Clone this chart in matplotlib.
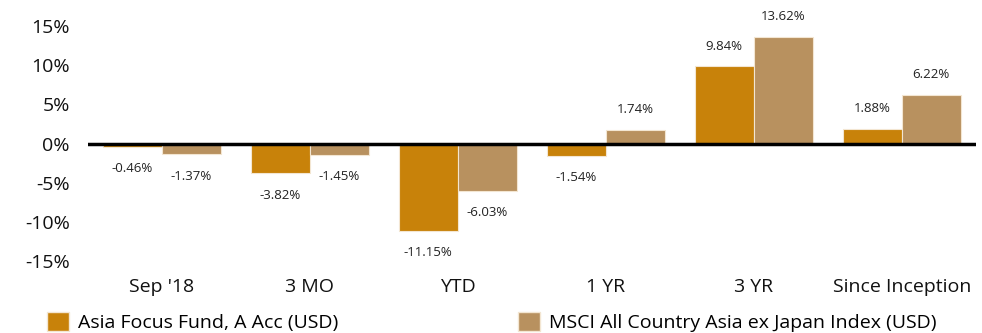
import numpy as np
import matplotlib.pyplot as plt
from matplotlib.patches import Patch

# Performance returns (%)
periods = ["Sep '18", "3 MO", "YTD", "1 YR", "3 YR", "Since Inception"]
fund_returns = [-0.46, -3.82, -11.15, -1.54, 9.84, 1.88]
index_returns = [-1.37, -1.45, -6.03, 1.74, 13.62, 6.22]
series_names = ["Asia Focus Fund, A Acc (USD)",
                "MSCI All Country Asia ex Japan Index (USD)"]
y_ticks = [-15, -10, -5, 0, 5, 10, 15]

fund_color = "#C8820A"
index_color = "#B8915F"
edge_color = "#F3E6D2"

plt.rcParams['font.family'] = ['Open Sans', 'DejaVu Sans']

fig = plt.figure(figsize=(9.82, 3.33), dpi=100)
ax = fig.add_axes([0.0896, 0.216, 0.904, 0.706])

x = np.arange(len(periods))
w = 0.4
b1 = ax.bar(x - w / 2, fund_returns, w, color=fund_color, edgecolor=edge_color, linewidth=0.8)
b2 = ax.bar(x + w / 2, index_returns, w, color=index_color, edgecolor=edge_color, linewidth=0.8)

def label_bars(bars, values):
    for bar, v in zip(bars, values):
        cx = bar.get_x() + bar.get_width() / 2
        off = 10 if v >= 0 else -11
        ax.annotate(f"{v:.2f}%", (cx, v), xytext=(0, off), textcoords="offset points",
                    ha="center", va="bottom" if v >= 0 else "top",
                    fontsize=9.5, color="#222222")

label_bars(b1, fund_returns)
label_bars(b2, index_returns)

ax.axhline(0, color="black", linewidth=2.5, zorder=3)
ax.set_xlim(-0.5, len(periods) - 0.5)
ax.set_ylim(-15, 15)
ax.set_yticks(y_ticks)
ax.set_yticklabels([f"{t}%" for t in y_ticks])
ax.set_xticks(x)
ax.set_xticklabels(periods)
ax.tick_params(axis="both", length=0, labelsize=14, colors="#111111")
ax.tick_params(axis="x", pad=12)
ax.tick_params(axis="y", pad=13)
for s in ax.spines.values():
    s.set_visible(False)

handles = [Patch(facecolor=fund_color, edgecolor=edge_color),
           Patch(facecolor=index_color, edgecolor=edge_color)]
fig.legend(handles, series_names, loc="upper left", bbox_to_anchor=(0.048, 0.062),
           ncol=2, frameon=False, fontsize=14, handlelength=1.1, handleheight=1.1,
           handletextpad=0.5, columnspacing=9.25, borderaxespad=0, borderpad=0)

fig.savefig("out.png", dpi=100)
